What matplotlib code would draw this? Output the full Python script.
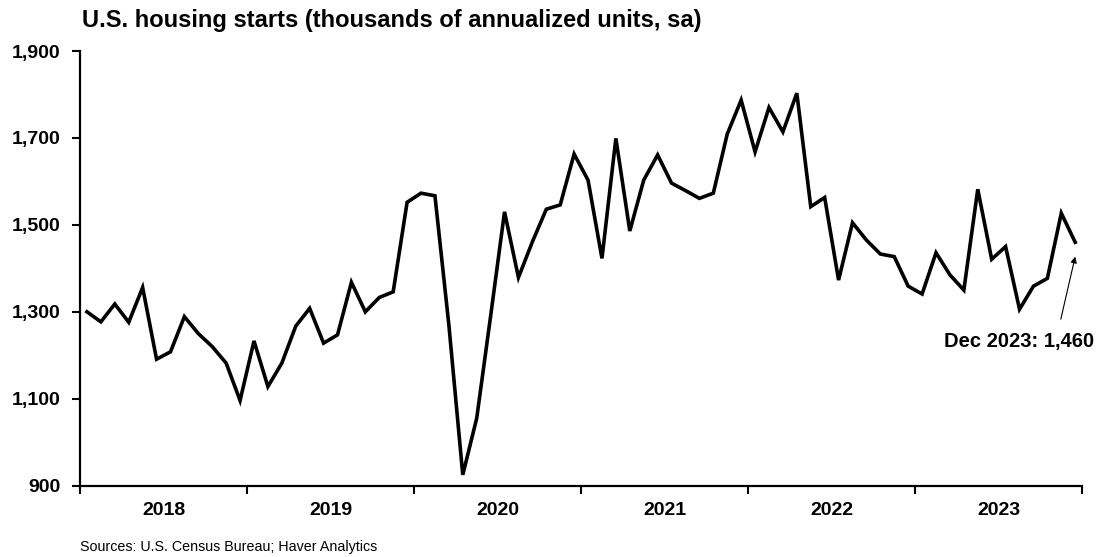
import matplotlib
matplotlib.use("Agg")
import matplotlib.pyplot as plt
import numpy as np

plt.rcParams['font.family'] = ['Liberation Sans', 'DejaVu Sans']

# monthly housing starts, Jan 2018 - Dec 2023 (thousands, saar)
years = [2018, 2019, 2020, 2021, 2022, 2023]
starts = [
    1300, 1277, 1318, 1276, 1356, 1191, 1208, 1289, 1250, 1220, 1182, 1096,  # 2018
    1233, 1128, 1182, 1267, 1308, 1228, 1247, 1368, 1300, 1333, 1346, 1552,  # 2019
    1573, 1567, 1270, 925, 1055, 1290, 1530, 1379, 1461, 1536, 1546, 1663,   # 2020
    1603, 1423, 1699, 1486, 1603, 1661, 1596, 1579, 1561, 1573, 1709, 1787,  # 2021
    1668, 1770, 1714, 1803, 1542, 1563, 1373, 1505, 1465, 1433, 1427, 1359,  # 2022
    1341, 1436, 1385, 1350, 1582, 1421, 1450, 1306, 1359, 1377, 1527, 1460,  # 2023
]
yticks = [900, 1100, 1300, 1500, 1700, 1900]

# month centres in fractional years
x = years[0] + (np.arange(len(starts)) + 0.5) / 12

fig = plt.figure(figsize=(11.02, 5.57), dpi=100)
ax = fig.add_axes([0.0726, 0.128, 0.9094, 0.7804])

ax.plot(x, starts, color='black', lw=2.6, solid_joinstyle='miter')

ax.set_xlim(years[0], years[-1] + 1)
ax.set_ylim(900, 1900)

ax.set_yticks(yticks)
ax.set_yticklabels([f"{v:,}" for v in yticks], fontsize=14, fontweight='bold')

# year boundaries as ticks, labels in the middle of each year
ax.set_xticks(list(years) + [years[-1] + 1])
ax.set_xticklabels([])
ax.set_xticks([y + 0.5 for y in years], minor=True)
ax.set_xticklabels([str(y) for y in years], minor=True, fontsize=14, fontweight='bold')
ax.tick_params(axis='x', which='minor', length=0, pad=12)
ax.tick_params(axis='x', which='major', length=6, width=1.5, direction='out')
ax.tick_params(axis='y', length=6, width=1.5, direction='out', pad=8)

for s in ['top', 'right']:
    ax.spines[s].set_visible(False)
for s in ['left', 'bottom']:
    ax.spines[s].set_linewidth(1.6)

# callout for the last point
ax.text(2024.07, 1231, 'Dec 2023: 1,460', ha='right', va='center',
        fontsize=14.5, fontweight='bold', clip_on=False)
ax.annotate('', xy=(x[-1], 1427), xytext=(2023.872, 1283),
            arrowprops=dict(arrowstyle='-|>', color='black', lw=0.8,
                            mutation_scale=9, shrinkA=0, shrinkB=0))

fig.text(0.074, 0.963, 'U.S. housing starts (thousands of annualized units, sa)',
         fontsize=17, fontweight='bold', va='center', ha='left')
fig.text(0.0726, 0.018, 'Sources: U.S. Census Bureau; Haver Analytics',
         fontsize=10.3, va='center', ha='left')

fig.savefig('out.png', dpi=100)
